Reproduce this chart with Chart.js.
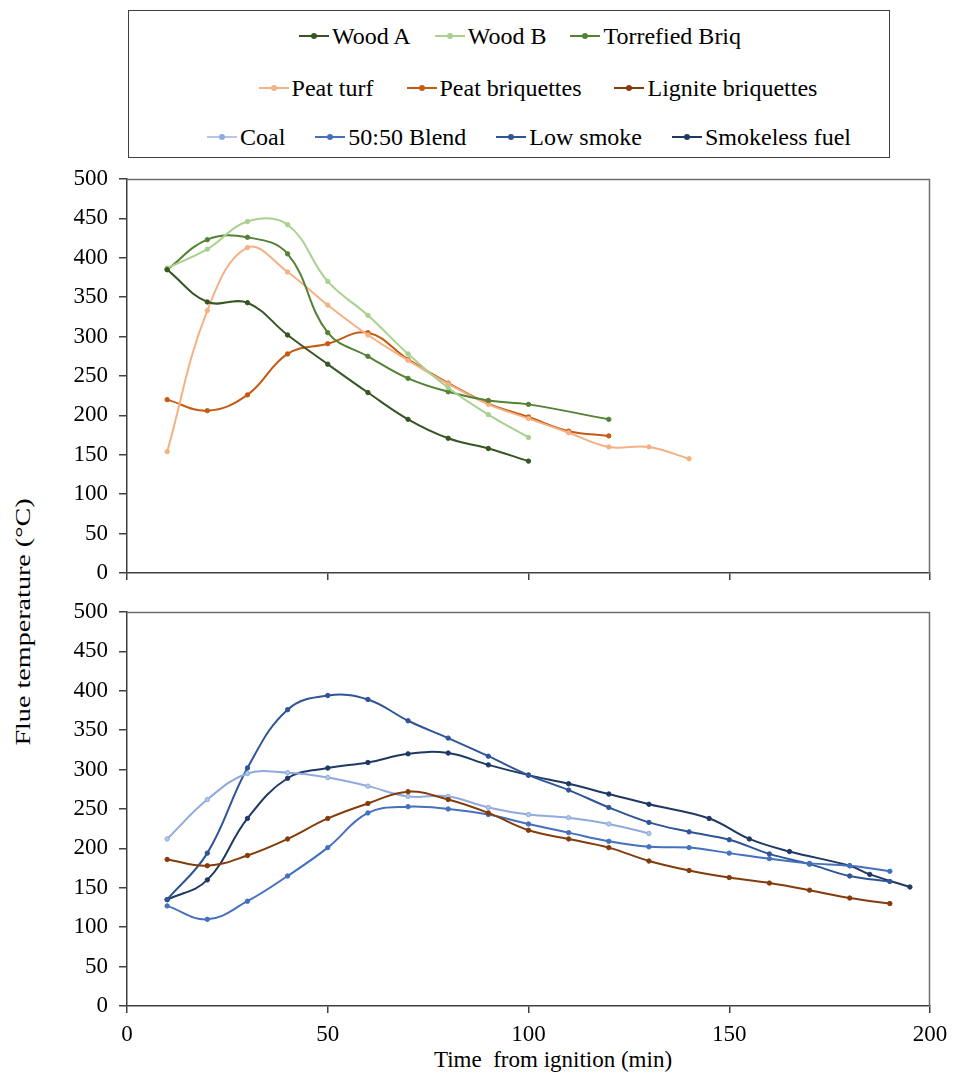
<!DOCTYPE html>
<html>
<head>
<meta charset="utf-8">
<script src="https://cdn.jsdelivr.net/npm/chart.js@4.4.1/dist/chart.umd.min.js"></script>
<style>
  body { margin: 0; background: #fff; width: 956px; height: 1079px; position: relative; overflow: hidden;
         font-family: "Liberation Serif", "Times New Roman", serif; }
  #legend { position: absolute; left: 128px; top: 10px; width: 762px; height: 148px;
            border: 1px solid #404040; box-sizing: border-box; }
  .row { position: absolute; right: 0; display: flex; justify-content: center;
         font-size: 24px; line-height: 28px; color: #000; }
  .item { display: flex; align-items: center; }
  .swatch { position: relative; width: 30px; height: 2px; margin-right: 3px; }
  .swatch i { position: absolute; left: 12px; top: -2px; width: 6px; height: 6px; border-radius: 3px; }
  #ytitle { position: absolute; left: 23px; top: 622px; transform: translate(-50%, -50%) rotate(-90deg) scaleX(1.34);
            white-space: nowrap; font-size: 21px; line-height: 24px; color: #000; }
  #xtitle { position: absolute; left: 553px; top: 1060px; transform: translate(-50%, -50%);
            white-space: pre; font-size: 23px; line-height: 26px; color: #000; }
  #topWrap { position: absolute; left: 0; top: 165px; width: 956px; height: 418px; }
  #botWrap { position: absolute; left: 0; top: 600px; width: 956px; height: 479px; }
</style>
</head>
<body>
<div id="legend"></div>
<div id="ytitle">Flue temperature (°C)</div>
<div id="xtitle">Time  from ignition (min)</div>
<div id="topWrap"><canvas id="top-chart"></canvas></div>
<div id="botWrap"><canvas id="bottom-chart"></canvas></div>
<script>
// time axis (min from ignition)
var t10to100 = [10, 20, 30, 40, 50, 60, 70, 80, 90, 100];
var t10to120 = [10, 20, 30, 40, 50, 60, 70, 80, 90, 100, 110, 120];
var t10to130 = [10, 20, 30, 40, 50, 60, 70, 80, 90, 100, 110, 120, 130];
var t10to140 = [10, 20, 30, 40, 50, 60, 70, 80, 90, 100, 110, 120, 130, 140];
var t10to190 = [10, 20, 30, 40, 50, 60, 70, 80, 90, 100, 110, 120, 130, 140, 150, 160, 170, 180, 190];
var tTorrefied = [10, 20, 30, 40, 50, 60, 70, 80, 90, 100, 120];
var tSmokeless = [10, 20, 30, 40, 50, 60, 70, 80, 90, 100, 110, 120, 130, 145, 155, 165, 180, 185, 195];

// flue temperatures (°C)
var woodA = [385, 344, 343, 302, 265, 229, 195, 171, 158, 142];
var woodB = [387, 411, 446, 442, 370, 327, 278, 235, 201, 172];
var torrefied = [385, 423, 426, 405, 305, 275, 247, 230, 219, 214, 195];
var peatTurf = [154, 333, 413, 382, 340, 302, 270, 240, 214, 196, 178, 160, 160, 145];
var peatBriq = [220, 206, 226, 278, 291, 305, 271, 241, 215, 198, 180, 174];
var ligniteBriq = [186, 178, 191, 212, 238, 257, 272, 262, 245, 223, 212, 201, 184, 172, 163, 156, 147, 137, 130];
var coal = [212, 262, 295, 296, 290, 279, 266, 266, 252, 243, 239, 231, 219];
var blend = [127, 110, 133, 165, 201, 245, 253, 250, 243, 231, 220, 209, 202, 201, 194, 187, 181, 178, 171];
var lowSmoke = [135, 194, 302, 376, 394, 389, 362, 340, 317, 293, 274, 252, 233, 221, 211, 193, 180, 165, 158];
var smokeless = [135, 160, 238, 289, 302, 309, 320, 321, 306, 293, 282, 269, 256, 238, 212, 196, 178, 167, 151];

var xTicks = [0, 50, 100, 150, 200];
var yTicks = [0, 50, 100, 150, 200, 250, 300, 350, 400, 450, 500];

var legendRows = [
  ['Wood A', 'Wood B', 'Torrefied Briq'],
  ['Peat turf', 'Peat briquettes', 'Lignite briquettes'],
  ['Coal', '50:50 Blend', 'Low smoke', 'Smokeless fuel']
];

var serif = '"Liberation Serif", "Times New Roman", serif';
var axisColor = '#404040';

function pairs(times, values) {
  return times.map(function (t, i) {
    return { x: t, y: values[i] };
  });
}

function series(label, times, values, color, fill) {
  return {
    label: label,
    data: pairs(times, values),
    borderColor: color,
    backgroundColor: fill || color,
    pointBackgroundColor: fill || color,
    pointBorderColor: color,
    borderWidth: 2,
    pointRadius: 2.2,
    pointBorderWidth: 1,
    tension: 0.4,
    fill: false
  };
}

// draws the top and right edges of the plot box
var frame = {
  id: 'frame',
  afterDraw: function (chart) {
    var a = chart.chartArea;
    var ctx = chart.ctx;
    ctx.save();
    ctx.strokeStyle = '#6e6e6e';
    ctx.lineWidth = 1.5;
    ctx.beginPath();
    ctx.moveTo(a.left, a.top + 0.5);
    ctx.lineTo(a.right - 0.5, a.top + 0.5);
    ctx.lineTo(a.right - 0.5, a.bottom);
    ctx.stroke();
    ctx.restore();
  }
};

// keep the plot box where the layout padding puts it
function noOverflow(scale) {
  scale.paddingTop = 0;
  scale.paddingBottom = 0;
  scale.paddingLeft = 0;
  scale.paddingRight = 0;
}

function makeOptions(showX, xHeight, padTop) {
  return {
    responsive: true,
    maintainAspectRatio: false,
    animation: false,
    layout: { padding: { top: padTop, right: 26, left: 0, bottom: 0 } },
    plugins: { legend: { display: false }, tooltip: { enabled: false } },
    scales: {
      x: {
        type: 'linear',
        min: 0,
        max: 200,
        afterBuildTicks: function (scale) {
          scale.ticks = xTicks.map(function (v) { return { value: v }; });
        },
        afterFit: function (scale) { scale.height = xHeight; noOverflow(scale); },
        border: { color: axisColor, width: 1.5 },
        grid: { drawOnChartArea: false, drawTicks: true, tickLength: 7, color: axisColor, lineWidth: 1.5 },
        ticks: { display: showX, color: '#000', padding: 8, maxRotation: 0, font: { family: serif, size: 23 } }
      },
      y: {
        min: 0,
        max: 500,
        afterBuildTicks: function (scale) {
          scale.ticks = yTicks.map(function (v) { return { value: v }; });
        },
        afterFit: function (scale) { scale.width = 127; noOverflow(scale); },
        border: { color: axisColor, width: 1.5 },
        grid: { drawOnChartArea: false, drawTicks: true, tickLength: 8, color: axisColor, lineWidth: 1.5 },
        ticks: { color: '#000', padding: 11, font: { family: serif, size: 23 } }
      }
    }
  };
}

var topChart = new Chart(document.getElementById('top-chart').getContext('2d'), {
  type: 'line',
  data: {
    datasets: [
      series('Wood A', t10to100, woodA, '#375623'),
      series('Wood B', t10to100, woodB, '#A9D18E'),
      series('Torrefied Briq', tTorrefied, torrefied, '#548235'),
      series('Peat turf', t10to140, peatTurf, '#F4B183'),
      series('Peat briquettes', t10to120, peatBriq, '#C55A11')
    ]
  },
  options: makeOptions(false, 10, 14),
  plugins: [frame]
});

var bottomChart = new Chart(document.getElementById('bottom-chart').getContext('2d'), {
  type: 'line',
  data: {
    datasets: [
      series('Lignite briquettes', t10to190, ligniteBriq, '#843C0C'),
      series('Coal', t10to130, coal, '#8FAADC', '#B4C7E7'),
      series('50:50 Blend', t10to190, blend, '#4470BE'),
      series('Low smoke', t10to190, lowSmoke, '#2F5597'),
      series('Smokeless fuel', tSmokeless, smokeless, '#203864')
    ]
  },
  options: makeOptions(true, 73, 12),
  plugins: [frame]
});

// legend box built from both charts' datasets
function buildLegend() {
  var all = topChart.data.datasets.concat(bottomChart.data.datasets);
  var box = document.getElementById('legend');
  var rowTops = [11, 63, 112];
  var rowLefts = [22, 58, 40];
  var rowGaps = [24, 33, 30];
  legendRows.forEach(function (labels, r) {
    var row = document.createElement('div');
    row.className = 'row';
    row.style.top = rowTops[r] + 'px';
    row.style.left = rowLefts[r] + 'px';
    row.style.gap = rowGaps[r] + 'px';
    labels.forEach(function (label) {
      var ds = all.filter(function (d) { return d.label === label; })[0];
      var item = document.createElement('div');
      item.className = 'item';
      var sw = document.createElement('span');
      sw.className = 'swatch';
      sw.style.background = label === 'Coal' ? '#B4C7E7' : ds.borderColor;
      var dot = document.createElement('i');
      dot.style.background = ds.borderColor;
      sw.appendChild(dot);
      var txt = document.createElement('span');
      txt.textContent = label;
      item.appendChild(sw);
      item.appendChild(txt);
      row.appendChild(item);
    });
    box.appendChild(row);
  });
}
buildLegend();
</script>
</body>
</html>
